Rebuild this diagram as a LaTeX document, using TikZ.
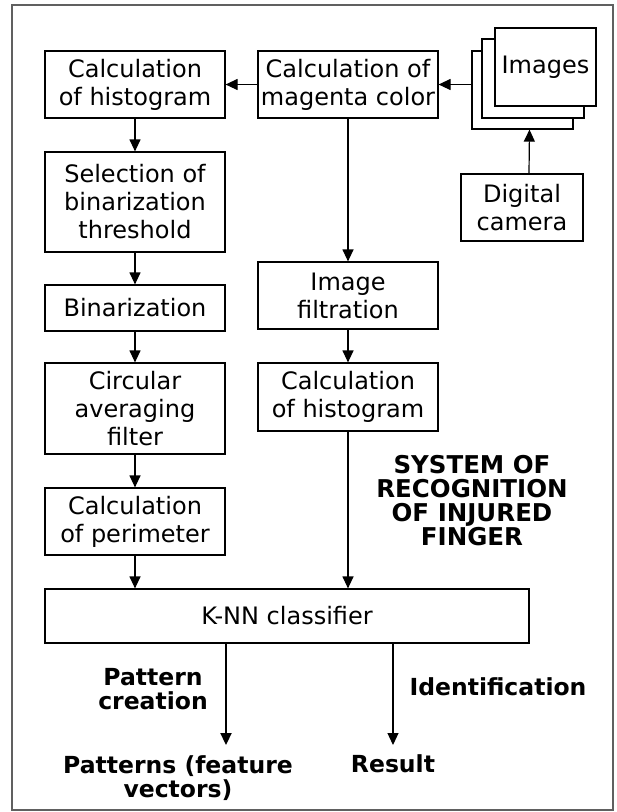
\documentclass[tikz,border=0pt]{standalone}
\usepackage{fontspec}
\setmainfont{DejaVu Sans}
\usetikzlibrary{arrows.meta,calc}
\begin{document}
\begin{tikzpicture}[x=1pt,y=-1pt,
  box/.style={draw,line width=1.2pt,fill=white,inner sep=0pt,align=center,font=\fontsize{24}{28}\selectfont},
  arr/.style={-{Triangle[width=11pt,length=12pt]},line width=1.2pt},
  thickarr/.style={-{Triangle[width=11pt,length=12pt]},line width=2.2pt},
  lab/.style={inner sep=0pt,align=center,font=\bfseries\fontsize{23.5}{24}\selectfont},
  title/.style={inner sep=0pt,align=center,font=\bfseries\fontsize{24.5}{24}\selectfont}
]
\useasboundingbox (0,0) rectangle (617,812);
\draw[gray!75!black,line width=1.2pt] (12,5) rectangle (613,810);

% left column
\node[box,minimum width=180,minimum height=67] (hist1) at (135,84.5) {Calculation\\of histogram};
\node[box,minimum width=180,minimum height=100] (sel) at (135,202) {Selection of\\binarization\\threshold};
\node[box,minimum width=180,minimum height=46] (bin) at (135,308) {Binarization};
\node[box,minimum width=180,minimum height=91] (circ) at (135,408.5) {Circular\\averaging\\filter};
\node[box,minimum width=180,minimum height=67] (perim) at (135,521.5) {Calculation\\of perimeter};

% middle column
\node[box,minimum width=180,minimum height=67] (mag) at (348,84.5) {Calculation of\\magenta color};
\node[box,minimum width=180,minimum height=67] (filt) at (348,295.5) {Image\\filtration};
\node[box,minimum width=180,minimum height=68] (hist2) at (348,397) {Calculation\\of histogram};

% images stack and camera
\node[box,minimum width=101,minimum height=78] (back) at (522.5,90) {};
\node[box,minimum width=102,minimum height=79] (midimg) at (533,78.5) {};
\node[box,minimum width=101,minimum height=78] (front) at (545.5,67) {Images};
\node[box,minimum width=122,minimum height=67] (cam) at (522,207.5) {Digital\\camera};

% classifier
\node[box,minimum width=484,minimum height=54] (knn) at (287,616) {K-NN classifier};

% title
\node[title] (ttl) at (472,501) {SYSTEM OF\\RECOGNITION\\OF INJURED\\FINGER};

% bottom
\coordinate (pend) at (226,745);
\coordinate (rend) at (393,745);
\node[lab] (pc) at (153,689) {Pattern\\creation};
\node[lab] (ident) at (498,687) {Identification};
\node[lab] (pat) at (178,778) {Patterns (feature\\vectors)};
\node[lab] (res) at (393,764) {Result};

% connectors
\draw[arr] ([xshift=7pt]cam.north) -- ([xshift=7pt]back.south);
\draw[arr] (back.west |- mag.east) -- (mag.east);
\draw[arr] (mag.west) -- (hist1.east);
\draw[arr] (hist1.south) -- (sel.north);
\draw[arr] (sel.south) -- (bin.north);
\draw[arr] (bin.south) -- (circ.north);
\draw[arr] (circ.south) -- (perim.north);
\draw[arr] (perim.south) -- (perim.south |- knn.north);
\draw[arr] (mag.south) -- (filt.north);
\draw[arr] (filt.south) -- (hist2.north);
\draw[arr] (hist2.south) -- (hist2.south |- knn.north);
\draw[thickarr] (knn.south -| pend) -- (pend);
\draw[arr] (knn.south -| rend) -- (rend);
\end{tikzpicture}
\end{document}
